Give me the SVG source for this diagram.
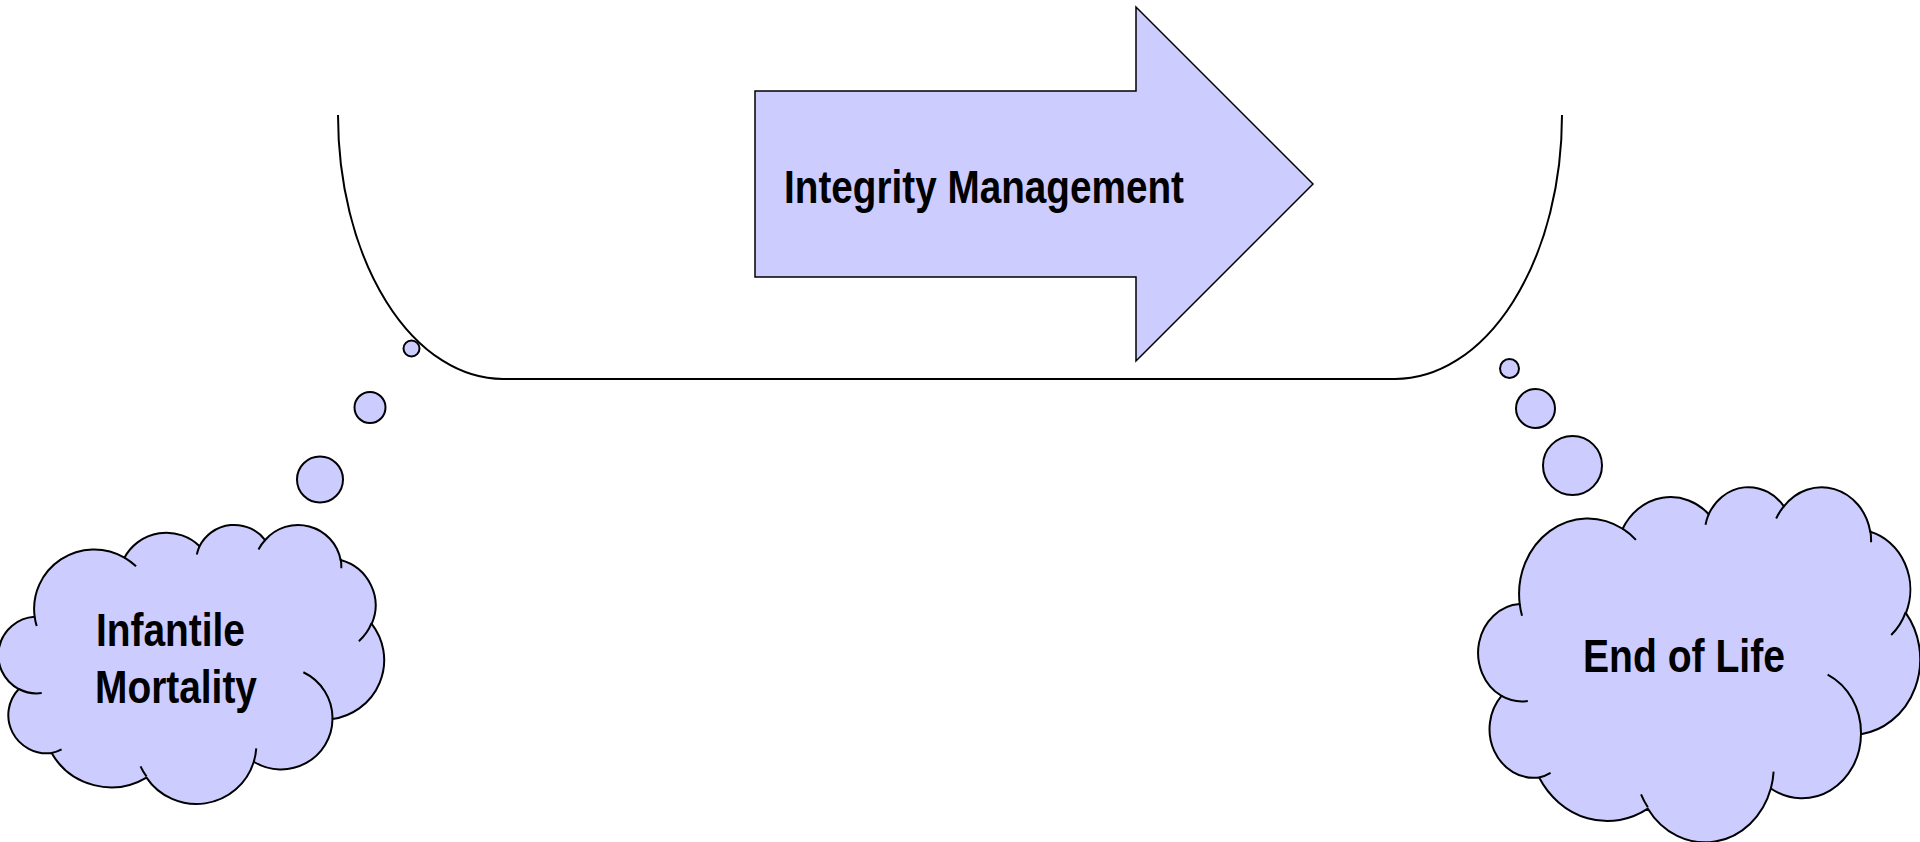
<svg xmlns="http://www.w3.org/2000/svg" width="1920" height="842" viewBox="0 0 1920 842">
<style>
.fill{fill:#CCCCFF;stroke:#000;stroke-width:2}
.line{fill:none;stroke:#000;stroke-width:2}
.nss{vector-effect:non-scaling-stroke}
.lbl{font-family:"Liberation Sans Narrow","Liberation Sans",Arial,sans-serif;font-weight:bold;font-size:47px;fill:#000}
</style>
<defs>
<path id="cloudOutline" class="nss" vector-effect="non-scaling-stroke" d="M3900,14370 A6753,9190 0 0 1 14005,5202 A5333,7267 0 0 1 22456,3433 A4365,5945 0 0 1 29833,2481 A4857,6595 0 0 1 38318,5577 A5333,7273 0 0 1 41818,15461 A6775,9220 0 0 1 37405,30205 A5785,7867 0 0 1 28555,36815 A6752,9215 0 0 1 16480,39266 A7720,10543 0 0 1 5805,35472 A4360,5918 0 0 1 2113,25550 A4345,5945 0 0 1 3900,14370 Z"/>
<path id="cloudInner" class="nss" vector-effect="non-scaling-stroke" d="M4693,26177 A4345,5945 0 0 1 2113,25550 M6928,34899 A4360,5918 0 0 1 5805,35472 M16478,39090 A6752,9215 0 0 1 15812,37525 M28827,34751 A6752,9215 0 0 1 28555,36815 M34129,22954 A5785,7867 0 0 1 37405,30205 M41798,15354 A5333,7273 0 0 1 40371,18136 M38324,5426 A4857,6595 0 0 1 38394,6840 M29078,3952 A4857,6595 0 0 1 29833,2481 M22141,4720 A4365,5945 0 0 1 22456,3433 M14000,5192 A6753,9190 0 0 1 15306,6551 M4127,15789 A6753,9190 0 0 1 3900,14370"/>
</defs>

<g id="bracket">
<path class="line" d="M338,115 A165,264 0 0 0 503,379 L1395,379 A167,264 0 0 0 1562,115"/>
</g>

<g id="node-integrity-management">
<polygon points="755,91 1136,91 1136,7 1313,184 1136,361 1136,277 755,277" fill="#CCCCFF" stroke="#000" stroke-width="1.5"/>
<text class="lbl" x="784" y="203" textLength="400" lengthAdjust="spacingAndGlyphs">Integrity Management</text>
</g>

<g id="connectors">
<circle class="fill" cx="411.5" cy="348.5" r="8"/>
<circle class="fill" cx="370" cy="407.5" r="15.5"/>
<circle class="fill" cx="320" cy="479.5" r="23"/>
<circle class="fill" cx="1509.5" cy="368.5" r="9.5"/>
<circle class="fill" cx="1535.5" cy="408.5" r="19.5"/>
<circle class="fill" cx="1572.5" cy="465.5" r="29.5"/>
</g>

<g id="node-infantile-mortality">
<g transform="translate(0,524) scale(0.0088889,0.0064583)">
<use href="#cloudOutline" class="fill"/>
<use href="#cloudInner" class="line"/>
</g>
<text class="lbl" x="96" y="646" textLength="149" lengthAdjust="spacingAndGlyphs">Infantile</text>
<text class="lbl" x="95" y="703" textLength="162" lengthAdjust="spacingAndGlyphs">Mortality</text>
</g>

<g id="node-end-of-life">
<g transform="translate(1480,486) scale(0.0101852,0.0082176)">
<use href="#cloudOutline" class="fill"/>
<use href="#cloudInner" class="line"/>
</g>
<text class="lbl" x="1583" y="672" textLength="202" lengthAdjust="spacingAndGlyphs">End of Life</text>
</g>
</svg>
